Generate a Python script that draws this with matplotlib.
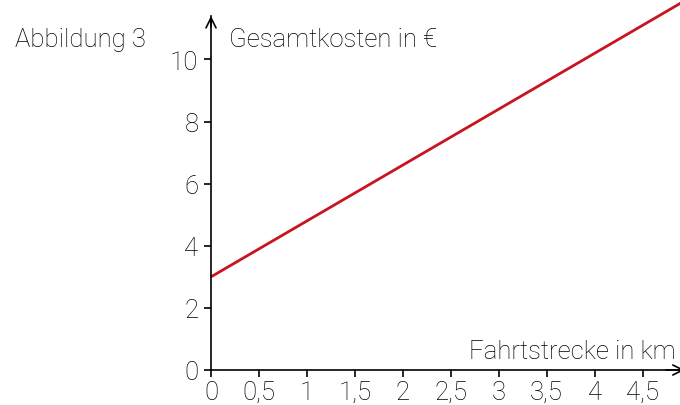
import matplotlib
matplotlib.use("Agg")
import matplotlib.pyplot as plt

# Daten
strecke = [0, 5]          # km
kosten = [3.0, 12.0]      # Euro
x_ticks = [0, 0.5, 1, 1.5, 2, 2.5, 3, 3.5, 4, 4.5]
x_labels = ["0", "0,5", "1", "1,5", "2", "2,5", "3", "3,5", "4", "4,5"]
y_ticks = [0, 2, 4, 6, 8, 10]

plt.rcParams["font.family"] = ["Roboto", "DejaVu Sans"]
plt.rcParams["font.weight"] = "light"
FS = 18.5

fig = plt.figure(figsize=(6.8, 4.06), dpi=100)
ax = fig.add_axes([211 / 680, 35 / 406, 469 / 680, 354 / 406])

# Linie darf über die Achsen hinaus bis zum Bildrand laufen
ax.plot(strecke, kosten, color="#c8141e", lw=2.0, solid_capstyle="butt",
        clip_on=False)
ax.set_xlim(0, 4.89)
ax.set_ylim(0, 11.4)

for s in ["top", "right"]:
    ax.spines[s].set_visible(False)
for s in ["left", "bottom"]:
    ax.spines[s].set_linewidth(1.2)

ax.set_xticks(x_ticks)
ax.set_xticklabels(x_labels)
ax.set_yticks(y_ticks)
ax.tick_params(direction="out", length=5, width=1.2, labelsize=FS, pad=2)
ax.tick_params(axis="y", pad=4)

# Pfeile an den Achsen
ax.annotate("", xy=(0, 1.0), xytext=(0, 0.97), xycoords="axes fraction",
            arrowprops=dict(arrowstyle="->", lw=1.2, color="black",
                            mutation_scale=18, shrinkA=0, shrinkB=0))
ax.annotate("", xy=(1.01, 0), xytext=(0.97, 0), xycoords="axes fraction",
            arrowprops=dict(arrowstyle="->", lw=1.2, color="black",
                            mutation_scale=18, shrinkA=0, shrinkB=0),
            annotation_clip=False)

fig.text(15 / 680, 1 - 40 / 406, "Abbildung 3", fontsize=FS, va="center", ha="left")
fig.text(229 / 680, 1 - 40 / 406, "Gesamtkosten in €", fontsize=FS, va="center", ha="left")
fig.text(676 / 680, 1 - 352 / 406, "Fahrtstrecke in km", fontsize=FS, va="center", ha="right")

fig.savefig("out.png", dpi=100)
